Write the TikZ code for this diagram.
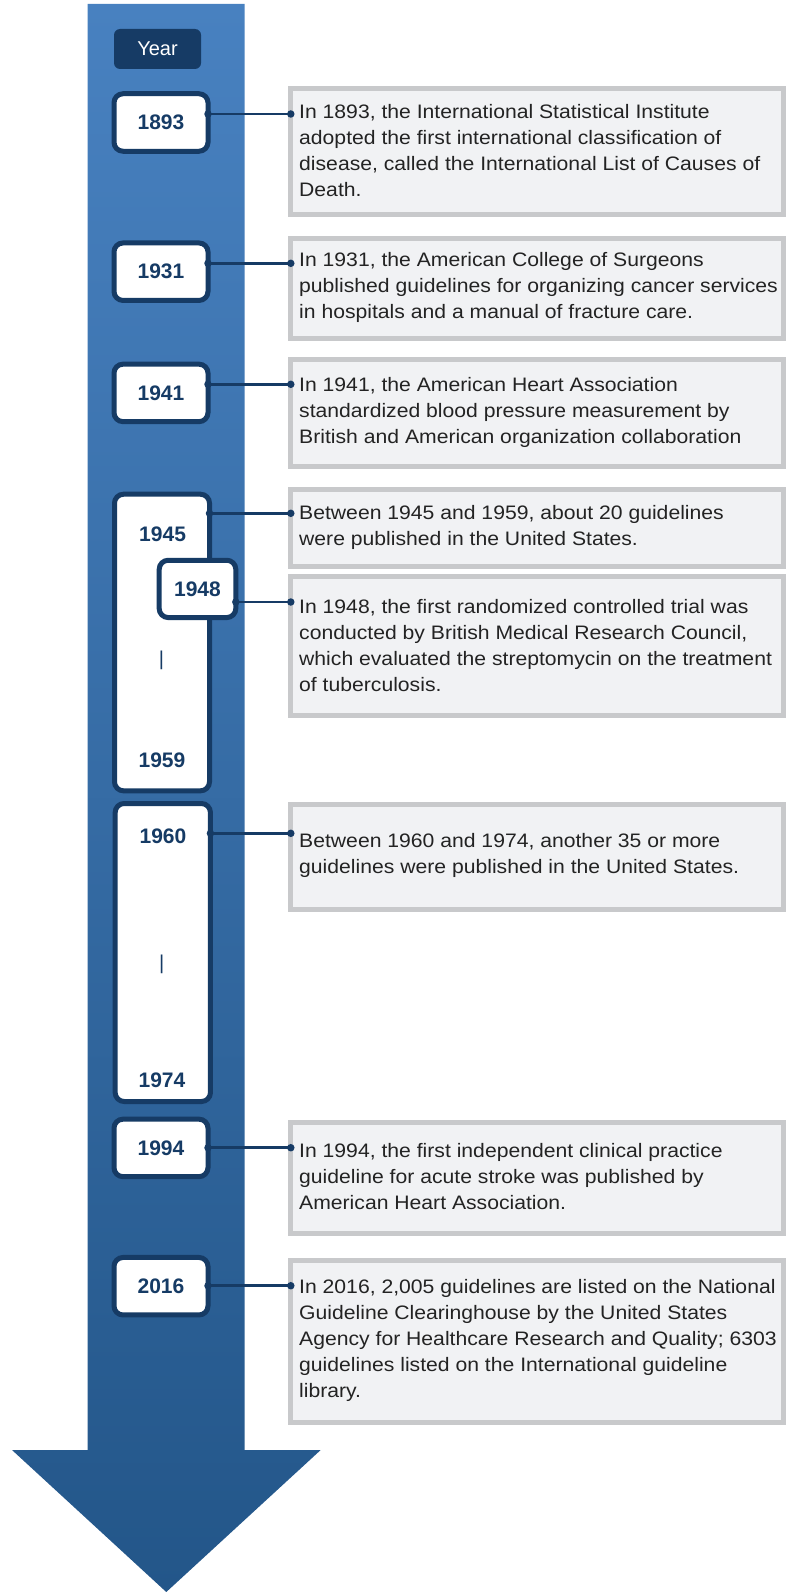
\documentclass[tikz,border=0pt]{standalone}
\usepackage{fontspec}
\setmainfont{Liberation Sans}
\newfontfamily\bodyfont[FakeStretch=1.085]{Liberation Sans}
\definecolor{shaftTop}{RGB}{72,129,192}
\definecolor{shaftMid}{RGB}{44,116,183}
\definecolor{shaftBot}{RGB}{35,86,137}
\definecolor{navy}{RGB}{22,59,101}
\definecolor{boxgray}{RGB}{200,201,203}
\definecolor{boxfill}{RGB}{241,242,244}
\definecolor{bodytext}{RGB}{35,35,35}
\begin{document}
\begin{tikzpicture}[x=1pt,y=-1pt,
  yearbox/.style={draw=navy, line width=5pt, fill=white, rounded corners=9pt,
    outer sep=0pt, inner sep=0pt, text=navy,
    font=\fontsize{21}{24}\selectfont\bfseries},
  smallyear/.style={yearbox, minimum width=94pt, minimum height=57.5pt},
  yeartab/.style={fill=navy, rounded corners=6pt, text=white, inner sep=0pt,
    font=\fontsize{20}{24}\selectfont, minimum width=87pt, minimum height=40pt},
  yearlabel/.style={text=navy, font=\fontsize{21}{24}\selectfont\bfseries, inner sep=0pt},
  rangebar/.style={text=navy, font=\fontsize{20}{24}\selectfont, inner sep=0pt},
  infobox/.style={draw=boxgray, fill=boxfill, line width=5pt, outer sep=0pt,
    inner sep=0pt, minimum width=492.4pt},
  infotext/.style={anchor=west, inner sep=0pt, align=left, text=bodytext,
    font=\bodyfont\fontsize{19.5}{26}\selectfont},
  link/.style={draw=navy, line width=2.8pt},
  linkdot/.style={circle, fill=navy, inner sep=0pt, minimum size=7.5pt}
]
\useasboundingbox (0,0) rectangle (787,1592);

% timeline arrow
\shade[top color=shaftTop, middle color=shaftMid, bottom color=shaftBot]
  (87.7,4) -- (244.7,4) -- (244.7,1450) -- (320.7,1450) -- (166.3,1592)
  -- (12,1450) -- (87.7,1450) -- cycle;

% header tab
\node[yeartab] (hdr) at (157.5,49) {Year};

% year boxes
\node[smallyear] (b1893) at (161,122.5) {1893};
\node[smallyear] (b1931) at (161,271.7) {1931};
\node[smallyear] (b1941) at (161,392.9) {1941};
\node[yearbox, minimum width=95pt, minimum height=296.6pt] (b1945) at (162,642.5) {};
\node[yearlabel] (l1945) at (162.6,533.8) {1945};
\node[rangebar] (r1945) at (161.5,660) {|};
\node[yearlabel] (l1959) at (162,760.5) {1959};
\node[yearbox, minimum width=76.6pt, minimum height=57.3pt] (b1948) at (197.5,588.9) {1948};
\node[yearbox, minimum width=95.3pt, minimum height=298pt] (b1960) at (162.8,952.5) {};
\node[yearlabel] (l1960) at (163,836.7) {1960};
\node[rangebar] (r1960) at (161.7,964) {|};
\node[yearlabel] (l1974) at (162,1080) {1974};
\node[smallyear] (b1994) at (161,1147.9) {1994};
\node[smallyear] (b2016) at (161,1286.2) {2016};

% event boxes
\node[infobox, minimum height=126pt] (t1) at (537,151.5) {};
\node[infobox, minimum height=99.7pt] (t2) at (537,288.4) {};
\node[infobox, minimum height=107.6pt] (t3) at (537,413) {};
\node[infobox, minimum height=77.6pt] (t4) at (537,528) {};
\node[infobox, minimum height=139.3pt] (t5) at (537,646.2) {};
\node[infobox, minimum height=105pt] (t6) at (537,856.7) {};
\node[infobox, minimum height=110.7pt] (t7) at (537,1177.9) {};
\node[infobox, minimum height=161.2pt] (t8) at (537,1341.4) {};

\node[infotext] (x1) at ([xshift=8.2pt,yshift=1pt]t1.west) {In 1893, the International Statistical Institute\\adopted the first international classification of\\disease, called the International List of Causes of\\Death.};
\node[infotext] (x2) at ([xshift=8.2pt,yshift=1pt]t2.west) {In 1931, the American College of Surgeons\\published guidelines for organizing cancer services\\in hospitals and a manual of fracture care.};
\node[infotext] (x3) at ([xshift=8.2pt,yshift=1pt]t3.west) {In 1941, the American Heart Association\\standardized blood pressure measurement by\\British and American organization collaboration};
\node[infotext] (x4) at ([xshift=8.2pt,yshift=1pt]t4.west) {Between 1945 and 1959, about 20 guidelines\\were published in the United States.};
\node[infotext] (x5) at ([xshift=8.2pt,yshift=1pt]t5.west) {In 1948, the first randomized controlled trial was\\conducted by British Medical Research Council,\\which evaluated the streptomycin on the treatment\\of tuberculosis.};
\node[infotext] (x6) at ([xshift=8.2pt,yshift=1pt]t6.west) {Between 1960 and 1974, another 35 or more\\guidelines were published in the United States.};
\node[infotext] (x7) at ([xshift=8.2pt,yshift=1pt]t7.west) {In 1994, the first independent clinical practice\\guideline for acute stroke was published by\\American Heart Association.};
\node[infotext] (x8) at ([xshift=8.2pt,yshift=1pt]t8.west) {In 2016, 2,005 guidelines are listed on the National\\Guideline Clearinghouse by the United States\\Agency for Healthcare Research and Quality; 6303\\guidelines listed on the International guideline\\library.};

% connectors
\draw[link] (b1893.east |- 0,114) -- (t1.west |- 0,114)
  node[linkdot, pos=0] {} node[linkdot, pos=1] {};
\draw[link] (b1931.east |- 0,263.3) -- (t2.west |- 0,263.3)
  node[linkdot, pos=0] {} node[linkdot, pos=1] {};
\draw[link] (b1941.east |- 0,384.3) -- (t3.west |- 0,384.3)
  node[linkdot, pos=0] {} node[linkdot, pos=1] {};
\draw[link] (b1945.east |- 0,513.3) -- (t4.west |- 0,513.3)
  node[linkdot, pos=0] {} node[linkdot, pos=1] {};
\draw[link] (b1948.east |- 0,602) -- (t5.west |- 0,602)
  node[linkdot, pos=0] {} node[linkdot, pos=1] {};
\draw[link] (b1960.east |- 0,833.3) -- (t6.west |- 0,833.3)
  node[linkdot, pos=0] {} node[linkdot, pos=1] {};
\draw[link] (b1994.east |- 0,1147.7) -- (t7.west |- 0,1147.7)
  node[linkdot, pos=0] {} node[linkdot, pos=1] {};
\draw[link] (b2016.east |- 0,1285.7) -- (t8.west |- 0,1285.7)
  node[linkdot, pos=0] {} node[linkdot, pos=1] {};
\end{tikzpicture}
\end{document}
